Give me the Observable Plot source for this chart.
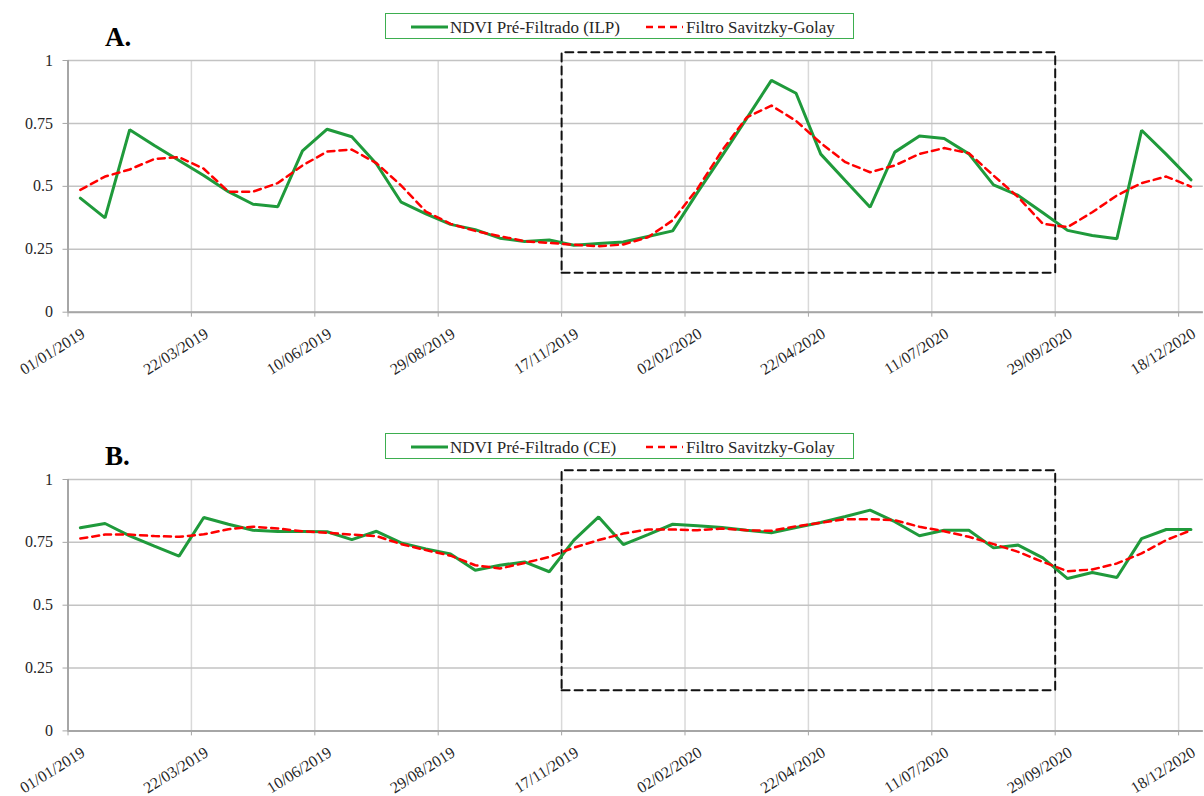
<!DOCTYPE html>
<html><head><meta charset="utf-8">
<script src="https://cdn.jsdelivr.net/npm/d3@7"></script>
<script src="https://cdn.jsdelivr.net/npm/@observablehq/plot@0.6"></script>
<style>
body{margin:0;background:#fff;}
#root{position:relative;width:1204px;height:796px;overflow:hidden;font-family:"Liberation Serif","Times New Roman",serif;background:#fff;}
.panel{position:absolute;left:0;}
.tag{position:absolute;font-weight:bold;font-size:27px;line-height:27px;color:#000;}
.legend{position:absolute;left:385px;width:467px;height:24px;border:1.5px solid #3dae4f;background:#fff;font-size:17px;color:#262626;}
.legend .sw{position:absolute;top:10px;}
.legend .lt{position:absolute;top:0;line-height:27px;white-space:nowrap;}
</style></head><body><div id="root"></div><script>
// Categories: composite dates (16-day)
const dates = [
  "01/01/2019","17/01/2019","02/02/2019","18/02/2019","06/03/2019","22/03/2019","07/04/2019","23/04/2019",
  "09/05/2019","25/05/2019","10/06/2019","26/06/2019","12/07/2019","28/07/2019","13/08/2019","29/08/2019",
  "14/09/2019","30/09/2019","16/10/2019","01/11/2019","17/11/2019","03/12/2019","19/12/2019",
  "01/01/2020","17/01/2020","02/02/2020","18/02/2020","05/03/2020","21/03/2020","06/04/2020","22/04/2020",
  "08/05/2020","24/05/2020","09/06/2020","25/06/2020","11/07/2020","27/07/2020","12/08/2020","28/08/2020",
  "13/09/2020","29/09/2020","15/10/2020","31/10/2020","16/11/2020","02/12/2020","18/12/2020"
];
const tickLabels = ["01/01/2019","22/03/2019","10/06/2019","29/08/2019","17/11/2019","02/02/2020","22/04/2020","11/07/2020","29/09/2020","18/12/2020"];
const yTicks = [0, 0.25, 0.5, 0.75, 1];

// Panel A (ILP)
const ilpRaw = [0.453,0.375,0.725,0.662,0.603,0.543,0.479,0.429,0.419,0.641,0.727,0.697,0.589,0.437,0.391,0.349,0.328,0.294,0.281,0.287,0.266,0.273,0.279,
  0.301,0.323,0.475,0.621,0.770,0.921,0.870,0.628,0.522,0.417,0.636,0.700,0.690,0.629,0.506,0.464,0.395,0.325,0.305,0.292,0.723,0.627,0.526];
const ilpSG = [0.486,0.539,0.567,0.609,0.616,0.570,0.479,0.479,0.513,0.583,0.638,0.646,0.592,0.503,0.400,0.351,0.323,0.302,0.282,0.275,0.268,0.262,0.269,
  0.298,0.365,0.490,0.642,0.774,0.821,0.760,0.672,0.596,0.556,0.583,0.629,0.652,0.632,0.543,0.457,0.351,0.338,0.397,0.464,0.513,0.539,0.499];

// Panel B (CE)
const ceRaw = [0.808,0.825,0.776,0.735,0.695,0.849,0.822,0.798,0.793,0.793,0.792,0.761,0.794,0.748,0.724,0.704,0.639,0.659,0.672,0.633,0.759,0.851,0.741,
  0.781,0.822,0.816,0.809,0.798,0.788,0.809,0.829,0.853,0.878,0.832,0.776,0.798,0.798,0.728,0.739,0.688,0.606,0.630,0.610,0.765,0.801,0.801];
const ceSG = [0.765,0.781,0.781,0.775,0.772,0.782,0.802,0.812,0.805,0.794,0.788,0.781,0.775,0.743,0.719,0.697,0.659,0.646,0.668,0.692,0.729,0.759,0.785,
  0.801,0.801,0.798,0.805,0.798,0.796,0.814,0.828,0.842,0.842,0.838,0.812,0.794,0.772,0.743,0.712,0.672,0.635,0.642,0.666,0.706,0.759,0.798];

// Highlight box (dashed)
const boxStart = "17/11/2019", boxEnd = "29/09/2020";
const boxA = [0.157, 1.033];
const boxB = [0.162, 1.037];

const GREEN = "#1f9a3b", RED = "#ff0000";
const W = 1204, ML = 67.5, MR = 1.2, MT = 60;

function panel(raw, sg, box, height, marginBottom) {
  const bw = (W - ML - MR) / dates.length;
  const rows = dates.map((d, i) => ({date: d, raw: raw[i], sg: sg[i]}));
  const boxPath = [
    {x: boxStart, y: box[0]}, {x: boxEnd, y: box[0]}, {x: boxEnd, y: box[1]},
    {x: boxStart, y: box[1]}, {x: boxStart, y: box[0]}
  ];
  return Plot.plot({
    width: W, height, marginLeft: ML, marginRight: MR, marginTop: MT, marginBottom,
    style: {fontFamily: "'Liberation Serif', 'Times New Roman', serif", fontSize: "16px", background: "transparent", overflow: "visible"},
    x: {type: "band", domain: dates, padding: 0, align: 0.5},
    y: {domain: [0, 1]},
    marks: [
      Plot.gridX(tickLabels, {stroke: "#d9d9d9", strokeOpacity: 1, strokeWidth: 1.5, dx: -bw / 2}),
      Plot.gridY(yTicks, {stroke: "#c3c3c3", strokeOpacity: 1, strokeWidth: 1.5}),
      Plot.ruleY([0], {stroke: "#a6a6a6", strokeWidth: 2}),
      Plot.ruleX([dates[0]], {y1: 0, y2: 1, dx: -bw / 2, stroke: "#a6a6a6", strokeWidth: 2}),
      Plot.axisY(yTicks, {tickSize: 5, tickPadding: 10, tickFormat: d => String(d), stroke: "#a6a6a6", fill: "#262626", fontSize: 16, label: null}),
      Plot.axisX(tickLabels, {tickSize: 5, tickFormat: () => "", dx: -bw / 2, stroke: "#a6a6a6", label: null}),
      Plot.axisX(tickLabels, {tickSize: 0, tickPadding: 20, tickRotate: -32, dx: 3, fill: "#262626", fontSize: 16, label: null}),
      Plot.line(boxPath, {x: "x", y: "y", dx: -bw / 2, stroke: "#111", strokeWidth: 2, strokeDasharray: "8,5"}),
      Plot.line(rows, {x: "date", y: "raw", stroke: GREEN, strokeWidth: 3, strokeLinejoin: "miter"}),
      Plot.line(rows, {x: "date", y: "sg", stroke: RED, strokeWidth: 2.5, strokeDasharray: "7,5"})
    ]
  });
}

const root = document.getElementById("root");

function addPanel(top, raw, sg, box, height, marginBottom, tag, rawName, legendTop, tagTop) {
  const svg = panel(raw, sg, box, height, marginBottom);
  svg.classList.add("panel");
  svg.style.top = top + "px";
  root.appendChild(svg);

  const t = document.createElement("div");
  t.className = "tag";
  t.style.left = "105px";
  t.style.top = tagTop + "px";
  t.textContent = tag;
  root.appendChild(t);

  const lg = document.createElement("div");
  lg.className = "legend";
  lg.style.top = legendTop + "px";
  lg.innerHTML =
    `<svg class="sw" style="left:25px" width="37" height="6"><line x1="0" x2="37" y1="3" y2="3" stroke="${GREEN}" stroke-width="3"/></svg>` +
    `<span class="lt" style="left:64px">${rawName}</span>` +
    `<svg class="sw" style="left:260px" width="37" height="6"><line x1="0" x2="37" y1="3" y2="3" stroke="${RED}" stroke-width="2.5" stroke-dasharray="7,5"/></svg>` +
    `<span class="lt" style="left:300px">Filtro Savitzky-Golay</span>`;
  root.appendChild(lg);
}

addPanel(0, ilpRaw, ilpSG, boxA, 400, 400 - MT - 251.7, "A.", "NDVI Pré-Filtrado (ILP)", 13, 24);
addPanel(419.3, ceRaw, ceSG, boxB, 376.7, 376.7 - MT - 251.4, "B.", "NDVI Pré-Filtrado (CE)", 432.5, 442.5);
</script></body></html>
